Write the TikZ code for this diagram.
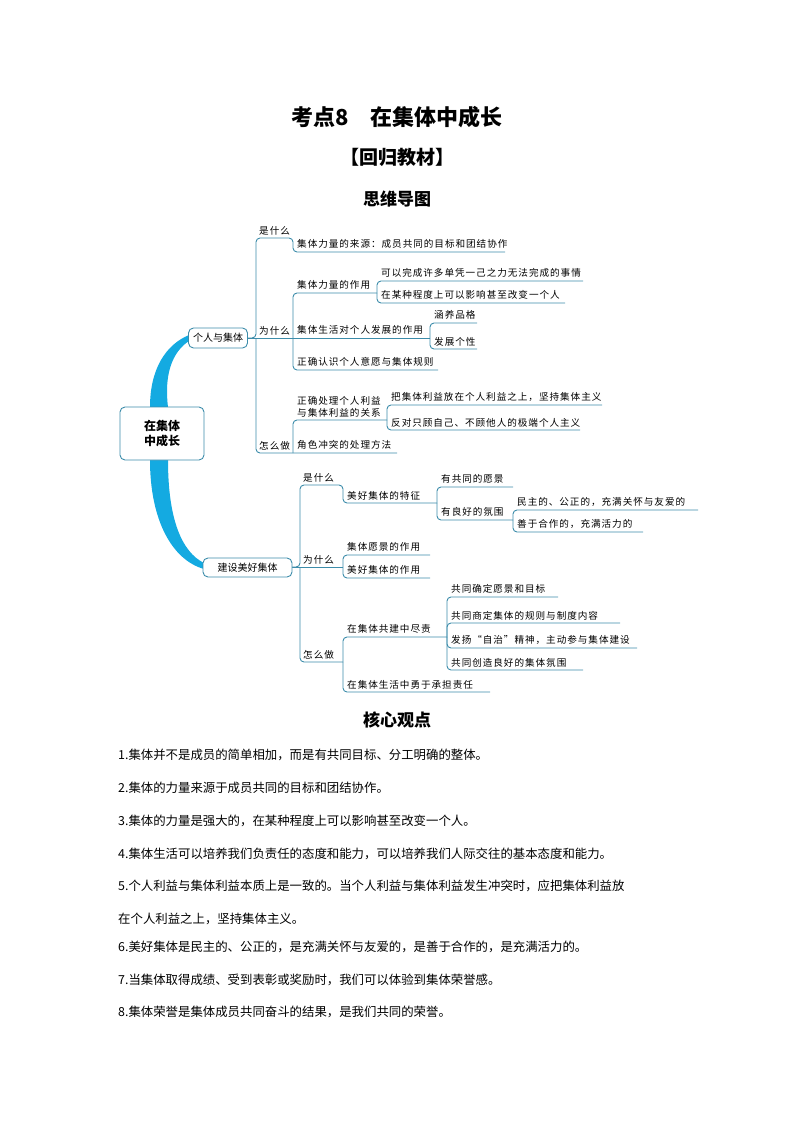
\documentclass[tikz,border=0pt]{standalone}
\usepackage{fontspec}
\setmainfont{Noto Sans CJK SC}
\definecolor{ln}{RGB}{60,140,170}
\definecolor{thickc}{RGB}{20,170,225}
\tikzset{
  rc/.style={draw=ln,line width=0.9pt,rounded corners=4pt},
  lbl/.style={anchor=south west,inner sep=1pt,font=\fontsize{9.6}{11.5}\selectfont\addfontfeature{LetterSpace=10}},
  box/.style={draw=ln,line width=0.9pt,rounded corners=5pt,fill=white,inner sep=2pt,font=\fontsize{10}{12}\selectfont},
  vp/.style={anchor=west,inner sep=0pt,font=\fontsize{12.4}{14}\selectfont}
}
\begin{document}
\begin{tikzpicture}[x=1pt,y=-1pt]
\useasboundingbox (0,0) rectangle (794,1123);
% titles
\node[font=\bfseries\fontsize{22}{26}\selectfont] (t1) at (397,117) {考点8\quad 在集体中成长};
\node[font=\bfseries\fontsize{19}{22}\selectfont] (t2) at (397,157) {【回归教材】};
\node[font=\bfseries\fontsize{17}{20}\selectfont] (t3) at (397,199) {思维导图};
% thick branches
\fill[thickc] (150,407) .. controls (150,370) and (165,345) .. (189,335) -- (189,341) .. controls (172,352) and (164,375) .. (168,407) -- cycle;
\fill[thickc] (150,460) .. controls (150,520) and (172,560) .. (204,569) -- (204,563) .. controls (182,552) and (168,520) .. (168,460) -- cycle;
\node[box,minimum width=84pt,minimum height=53pt,font=\bfseries\fontsize{12}{15}\selectfont,align=center] (root) at (162,433.5) {在集体\\中成长};
% ---- part 1
\draw[rc] (245,338) -- (256,338) |- (293,238) |- (505,252);
\draw[rc] (245,338) -- (430,338);
\draw[rc] (256,338) |- (293,453) -- (397,453);
\draw[rc] (293,338) |- (377,293);
\draw[rc] (377,293) |- (583,281);
\draw[rc] (377,293) |- (565,303);
\draw[rc] (430,338) |- (477,323);
\draw[rc] (430,338) |- (477,349);
\draw[rc] (293,338) |- (438,370);
\draw[rc] (293,453) |- (387,420);
\draw[rc] (387,420) |- (602,405);
\draw[rc] (387,420) |- (580,430);
\node[box,minimum width=59pt,minimum height=20pt] (b1) at (218,338) {个人与集体};
\node[lbl] (a1) at (258,236) {是什么};
\node[lbl] (a2) at (258,336) {为什么};
\node[lbl] (a3) at (258,451) {怎么做};
\node[lbl] (c1) at (296,250) {集体力量的来源：成员共同的目标和团结协作};
\node[lbl] (c2) at (296,291) {集体力量的作用};
\node[lbl] (c3) at (380,279) {可以完成许多单凭一己之力无法完成的事情};
\node[lbl] (c4) at (380,301) {在某种程度上可以影响甚至改变一个人};
\node[lbl] (c5) at (296,336) {集体生活对个人发展的作用};
\node[lbl] (c6) at (433,321) {涵养品格};
\node[lbl] (c7) at (433,347) {发展个性};
\node[lbl] (c8) at (296,368) {正确认识个人意愿与集体规则};
\node[lbl,align=left] (c9) at (296,418) {正确处理个人利益\\与集体利益的关系};
\node[lbl] (c10) at (390,403) {把集体利益放在个人利益之上，坚持集体主义};
\node[lbl] (c11) at (390,428) {反对只顾自己、不顾他人的极端个人主义};
\node[lbl] (c12) at (296,451) {角色冲突的处理方法};
% ---- part 2
\draw[rc] (290,567) -- (300,567) |- (343,485) |- (437,503);
\draw[rc] (290,567) -- (343,567);
\draw[rc] (300,567) |- (343,662);
\draw[rc] (437,503) |- (513,487);
\draw[rc] (437,503) |- (513,520);
\draw[rc] (513,520) |- (698,510);
\draw[rc] (513,520) |- (643,532);
\draw[rc] (343,567) |- (430,555);
\draw[rc] (343,567) |- (430,578);
\draw[rc] (343,662) |- (447,637);
\draw[rc] (343,662) |- (490,692);
\draw[rc] (447,637) |- (558,597);
\draw[rc] (447,637) |- (620,623);
\draw[rc] (447,637) |- (637,648);
\draw[rc] (447,637) |- (583,670);
\node[box,minimum width=89pt,minimum height=19pt] (b2) at (247.5,567.5) {建设美好集体};
\node[lbl] (d1) at (302,483) {是什么};
\node[lbl] (d2) at (302,565) {为什么};
\node[lbl] (d3) at (302,660) {怎么做};
\node[lbl] (e1) at (346,501) {美好集体的特征};
\node[lbl] (e2) at (440,485) {有共同的愿景};
\node[lbl] (e3) at (440,518) {有良好的氛围};
\node[lbl] (e4) at (516,508) {民主的、公正的，充满关怀与友爱的};
\node[lbl] (e5) at (516,530) {善于合作的，充满活力的};
\node[lbl] (e6) at (346,553) {集体愿景的作用};
\node[lbl] (e7) at (346,576) {美好集体的作用};
\node[lbl] (e8) at (346,635) {在集体共建中尽责};
\node[lbl] (e9) at (450,595) {共同确定愿景和目标};
\node[lbl] (e10) at (450,621) {共同商定集体的规则与制度内容};
\node[lbl] (e11) at (450,646) {发扬“自治”精神，主动参与集体建设};
\node[lbl] (e12) at (450,668) {共同创造良好的集体氛围};
\node[lbl] (e13) at (346,690) {在集体生活中勇于承担责任};
% ---- core viewpoints
\node[font=\bfseries\fontsize{17}{20}\selectfont] (h) at (397,720) {核心观点};
\node[vp] (p1) at (118,755) {1.集体并不是成员的简单相加，而是有共同目标、分工明确的整体。};
\node[vp] (p2) at (118,788) {2.集体的力量来源于成员共同的目标和团结协作。};
\node[vp] (p3) at (118,821) {3.集体的力量是强大的，在某种程度上可以影响甚至改变一个人。};
\node[vp] (p4) at (118,854) {4.集体生活可以培养我们负责任的态度和能力，可以培养我们人际交往的基本态度和能力。};
\node[vp] (p5) at (118,886) {5.个人利益与集体利益本质上是一致的。当个人利益与集体利益发生冲突时，应把集体利益放};
\node[vp] (p5b) at (118,919) {在个人利益之上，坚持集体主义。};
\node[vp] (p6) at (118,947) {6.美好集体是民主的、公正的，是充满关怀与友爱的，是善于合作的，是充满活力的。};
\node[vp] (p7) at (118,980) {7.当集体取得成绩、受到表彰或奖励时，我们可以体验到集体荣誉感。};
\node[vp] (p8) at (118,1012) {8.集体荣誉是集体成员共同奋斗的结果，是我们共同的荣誉。};
\end{tikzpicture}
\end{document}
